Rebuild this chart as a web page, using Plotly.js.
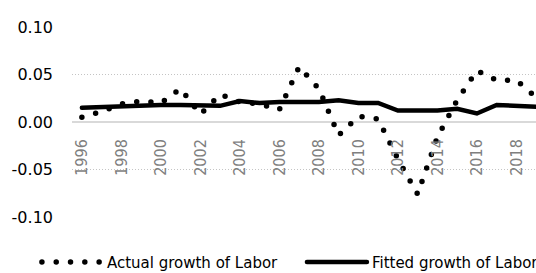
<!DOCTYPE html>
<html>
<head>
<meta charset="utf-8">
<script src="https://cdn.plot.ly/plotly-3.0.1.min.js"></script>
<style>
  html, body { margin: 0; padding: 0; background: #fff; overflow: hidden; width: 536px; height: 273px; }
  #chart { width: 560px; height: 273px; }
  .scatterlayer .js-line, .legend .js-line { stroke-linecap: round; }
</style>
</head>
<body>
<div id="chart"></div>
<script>
// ---- data ----
const years = ["1996","1997","1998","1999","2000","2001","2002","2003","2004","2005","2006","2007",
               "2008","2009","2010","2011","2012","2013","2014","2015","2016","2017","2018","2019"];
const actualGrowth = [0.005, 0.011, 0.019, 0.022, 0.020, 0.035, 0.008, 0.029, 0.021, 0.019, 0.013, 0.058,
                      0.035, -0.014, 0.006, 0.003, -0.039, -0.076, -0.016, 0.023, 0.054, 0.044, 0.044, 0.026];
const fittedGrowth = [0.015, 0.016, 0.016, 0.017, 0.018, 0.018, 0.017, 0.017, 0.022, 0.020, 0.021, 0.021,
                      0.021, 0.023, 0.020, 0.020, 0.012, 0.012, 0.012, 0.014, 0.009, 0.018, 0.0175, 0.016];
const xTickYears = ["1996","1998","2000","2002","2004","2006","2008","2010","2012","2014","2016","2018"];
const yTickVals = [-0.10, -0.05, 0.00, 0.05, 0.10];
const yTickText = ["-0.10", "-0.05", "0.00", "0.05", "0.10"];
const seriesNames = ["Actual growth of Labor", "Fitted growth of Labor"];

const traces = [
  {
    x: years, y: actualGrowth, name: seriesNames[0], type: "scatter", mode: "lines",
    line: { color: "#000000", width: 5.5, dash: "0px,14.3px" }
  },
  {
    x: years, y: fittedGrowth, name: seriesNames[1], type: "scatter", mode: "lines",
    line: { color: "#000000", width: 4.5 }
  }
];

const layout = {
  width: 560, height: 273,
  margin: { l: 72, r: 13.5, t: 27, b: 56, autoexpand: false },
  paper_bgcolor: "#ffffff", plot_bgcolor: "#ffffff",
  showlegend: true,
  xaxis: {
    type: "category", range: [-0.5, 23.5],
    anchor: "free", position: 0.5,
    tickmode: "array", tickvals: xTickYears, ticktext: xTickYears,
    tickangle: -90, ticks: "", ticklabelstandoff: 13,
    tickfont: { family: "DejaVu Sans Condensed, sans-serif", size: 16, color: "#7f7f7f" },
    showgrid: false, zeroline: false, showline: false, fixedrange: true
  },
  yaxis: {
    range: [-0.1, 0.1],
    tickmode: "array", tickvals: yTickVals, ticktext: yTickText,
    ticks: "", ticklabelstandoff: 18,
    tickfont: { family: "DejaVu Sans, sans-serif", size: 16, color: "#000000" },
    showgrid: true, gridcolor: "#c4c4c4", gridwidth: 1, griddash: "1px,2px",
    zeroline: true, zerolinecolor: "#d9d9d9", zerolinewidth: 2,
    showline: false, fixedrange: true
  },
  legend: {
    orientation: "h", x: -0.074, xanchor: "left", y: -0.238, yanchor: "middle",
    itemwidth: 60, entrywidth: 190, entrywidthmode: "pixels",
    font: { family: "DejaVu Sans, sans-serif", size: 15, color: "#000000" },
    bgcolor: "rgba(0,0,0,0)", borderwidth: 0
  }
};

Plotly.newPlot("chart", traces, layout, { staticPlot: true, displayModeBar: false });
</script>
</body>
</html>
